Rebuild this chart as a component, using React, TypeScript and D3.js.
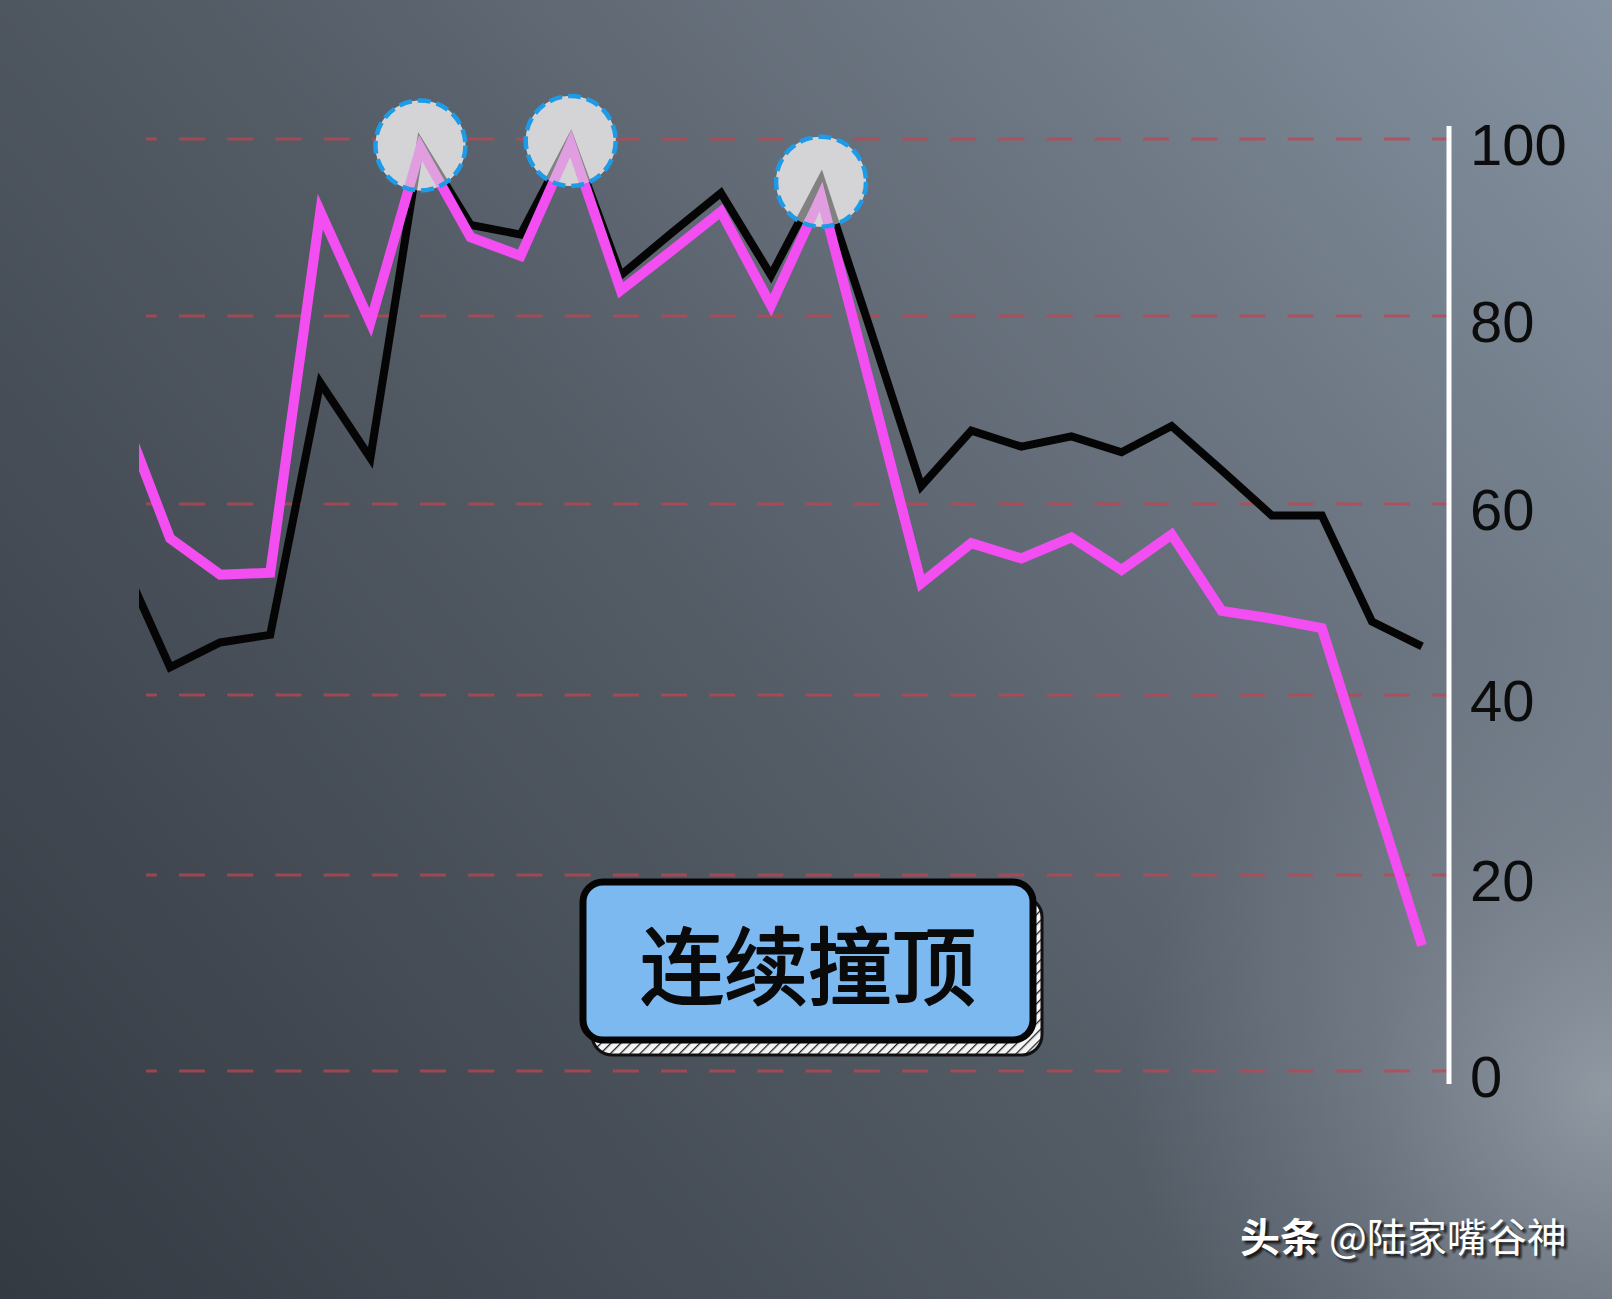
import React from "react";
import * as d3 from "d3";

const W = 1612;
const H = 1299;

// 27 consecutive sessions (index labels)
const days: string[] = Array.from({ length: 27 }, (_, i) => `D${i + 1}`);

const blackSeries: number[] = [
  54.6, 42.9, 45.5, 46.3, 72.9, 64.9, 99.5, 90.3, 89.2, 100, 84.6, 89.3, 93.9, 84.6,
  95.4, 78.3, 61.9, 67.8, 66.1, 67.2, 65.5, 68.3, 63.6, 58.8, 58.8, 47.7, 45.1,
];

const pinkSeries: number[] = [
  70.3, 56.4, 52.6, 52.8, 91.8, 79.3, 99, 88.9, 86.8, 99.5, 82.9, 87.3, 91.8, 81.2,
  93.5, 72.3, 51.7, 55.9, 54.3, 56.5, 53.1, 56.8, 48.8, 48.0, 47.0, 29.8, 12.8,
];

const yTicks: number[] = [0, 20, 40, 60, 80, 100];
const peakIndices: number[] = [6, 9, 14];

const labelText = "连续撞顶";
const brandText = "头条";
const authorText = " @陆家嘴谷神";

export default function App() {
  const x = d3.scalePoint<string>().domain(days).range([120, 1422]);
  // the photographed grid is slightly uneven, so map each tick to its own row
  const y = d3
    .scaleLinear()
    .domain(yTicks)
    .range([1071, 875, 695, 504, 316, 139]);

  const line = d3
    .line<number>()
    .x((_, i) => x(days[i]) as number)
    .y((d) => y(d))
    .curve(d3.curveLinear);

  const plotLeft = 139;
  const axisX = 1449;
  const gridLeft = 146;

  const boxX = 583;
  const boxY = 882;
  const boxW = 450;
  const boxH = 158;

  const wm = (
    <>
      <tspan fontWeight={700}>{brandText}</tspan>
      <tspan fontWeight={400}>{authorText}</tspan>
    </>
  );

  return (
    <svg
      width={W}
      height={H}
      viewBox={`0 0 ${W} ${H}`}
      style={{ position: "absolute", left: 0, top: 0, display: "block" }}
    >
      <defs>
        <linearGradient id="bg" gradientUnits="userSpaceOnUse" x1={0} y1={H} x2={W} y2={0}>
          <stop offset="0" stopColor="#343a42" />
          <stop offset="0.45" stopColor="#525a64" />
          <stop offset="0.75" stopColor="#6d7783" />
          <stop offset="1" stopColor="#8592a1" />
        </linearGradient>
        <radialGradient id="glow" gradientUnits="userSpaceOnUse" cx={1610} cy={1090} r={480}>
          <stop offset="0" stopColor="#a3abb4" stopOpacity={0.7} />
          <stop offset="0.5" stopColor="#959ea8" stopOpacity={0.3} />
          <stop offset="1" stopColor="#8d97a2" stopOpacity={0} />
        </radialGradient>
        <clipPath id="plotClip">
          <rect x={plotLeft} y={0} width={axisX - plotLeft} height={H} />
        </clipPath>
        <pattern
          id="hatch"
          width={7}
          height={7}
          patternUnits="userSpaceOnUse"
          patternTransform="rotate(45)"
        >
          <rect width={7} height={7} fill="#f4f4f4" />
          <line x1={0} y1={0} x2={0} y2={7} stroke="#222" strokeWidth={2.6} />
        </pattern>
        <filter id="wmShadow" x="-10%" y="-30%" width="120%" height="160%">
          <feGaussianBlur stdDeviation={1} />
        </filter>
      </defs>

      <rect x={0} y={0} width={W} height={H} fill="url(#bg)" />
      <rect x={0} y={0} width={W} height={H} fill="url(#glow)" />

      {/* grid lines */}
      {yTicks.map((t) => (
        <line
          key={`g${t}`}
          x1={gridLeft}
          x2={axisX}
          y1={y(t)}
          y2={y(t)}
          stroke="#bd4550"
          strokeOpacity={0.75}
          strokeWidth={3}
          strokeDasharray="26 22.2"
          strokeDashoffset={-33}
        />
      ))}

      {/* opaque base of the highlight circles */}
      {peakIndices.map((i) => (
        <circle
          key={`cb${i}`}
          cx={x(days[i]) as number}
          cy={y(blackSeries[i]) + 2}
          r={45}
          fill="#d4d4d6"
        />
      ))}

      <g clipPath="url(#plotClip)">
        <path
          d={line(blackSeries) || ""}
          fill="none"
          stroke="#050505"
          strokeWidth={8}
          strokeLinejoin="miter"
        />
        <path
          d={line(pinkSeries) || ""}
          fill="none"
          stroke="#f24ef2"
          strokeWidth={10}
          strokeLinejoin="miter"
        />
      </g>

      {/* veil + dashed outline of the highlight circles */}
      {peakIndices.map((i) => (
        <circle
          key={`cv${i}`}
          cx={x(days[i]) as number}
          cy={y(blackSeries[i]) + 2}
          r={45}
          fill="#d4d4d6"
          fillOpacity={0.6}
          stroke="#1d9be6"
          strokeWidth={4.5}
          strokeDasharray="13 6"
        />
      ))}

      {/* right axis */}
      <line x1={axisX} x2={axisX} y1={126} y2={1084} stroke="#ffffff" strokeWidth={5} />
      {yTicks.map((t) => (
        <text
          key={`t${t}`}
          x={1470}
          y={y(t) + 6}
          dy="0.35em"
          fontFamily="'Liberation Sans', Arial, sans-serif"
          fontSize={58}
          fill="#0c0c0c"
        >
          {t}
        </text>
      ))}

      {/* label box */}
      <rect
        x={boxX + 9}
        y={boxY + 15}
        width={boxW}
        height={boxH}
        rx={20}
        fill="url(#hatch)"
        stroke="#111"
        strokeWidth={3}
      />
      <rect
        x={boxX}
        y={boxY}
        width={boxW}
        height={boxH}
        rx={20}
        fill="#7db9f1"
        stroke="#050505"
        strokeWidth={7}
      />
      <text
        x={boxX + boxW / 2}
        y={boxY + boxH / 2}
        textAnchor="middle"
        dominantBaseline="central"
        fontFamily="'Noto Sans CJK SC', sans-serif"
        fontWeight={400}
        fontSize={84}
        fill="#0a0a0a"
        stroke="#0a0a0a"
        strokeWidth={2.2}
        strokeLinejoin="round"
      >
        {labelText}
      </text>

      {/* watermark */}
      <text
        x={1243}
        y={1255}
        fontFamily="'Noto Sans CJK SC', sans-serif"
        fontSize={40}
        fill="#111"
        fillOpacity={0.9}
        filter="url(#wmShadow)"
      >
        {wm}
      </text>
      <text
        x={1240}
        y={1252}
        fontFamily="'Noto Sans CJK SC', sans-serif"
        fontSize={40}
        fill="#ffffff"
      >
        {wm}
      </text>
    </svg>
  );
}
